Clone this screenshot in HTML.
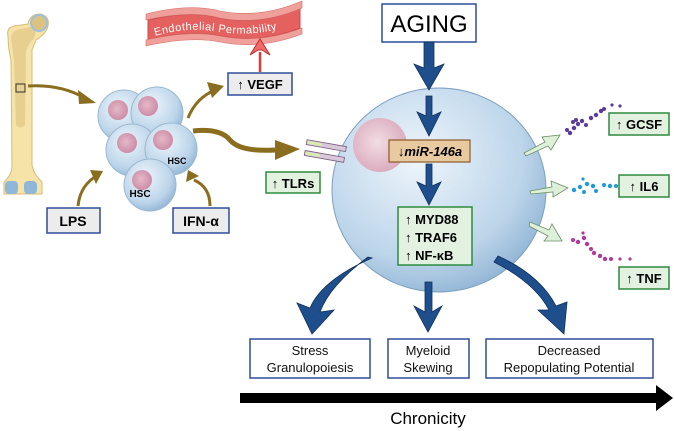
<!DOCTYPE html>
<html><head><meta charset="utf-8"><style>
html,body{margin:0;padding:0;background:#fff;}
svg{display:block;font-family:"Liberation Sans",sans-serif;}
.b{font-family:"Liberation Sans",sans-serif;font-weight:bold;}
</style></head><body>
<svg width="674" height="431" viewBox="0 0 674 431" xmlns="http://www.w3.org/2000/svg">
<defs>
<radialGradient id="cell" cx="0.4" cy="0.35" r="0.7">
<stop offset="0" stop-color="#eef5fb"/><stop offset="0.7" stop-color="#bcd5ea"/><stop offset="1" stop-color="#8fb3d4"/>
</radialGradient>
<radialGradient id="nuc" cx="0.45" cy="0.45" r="0.6">
<stop offset="0" stop-color="#f3dce4"/><stop offset="1" stop-color="#d9a9bb"/>
</radialGradient>
<radialGradient id="sn" cx="0.45" cy="0.45" r="0.6">
<stop offset="0" stop-color="#e6b8c9"/><stop offset="1" stop-color="#c98aa3"/>
</radialGradient>
</defs>

<!-- bone -->
<path d="M8,36 Q6,28 14,26 L28,24 Q30,14 40,14 Q50,16 48,26 Q46,34 36,40 L32,50 L32,165 Q34,175 42,182 L42,194 L4,194 L4,182 Q12,175 12,165 L11,60 Q8,48 8,36 Z" fill="#f5e3a8" stroke="#d6bd7a" stroke-width="1"/>
<path d="M11,38 Q12,30 20,29 L30,27 Q38,30 34,38 Q28,44 26,52 L25,125 Q20,130 16,125 L14,60 Z" fill="#d9c07a" opacity="0.55"/>
<circle cx="39" cy="23" r="8" fill="#dcc280" stroke="#9ec0dc" stroke-width="2"/>
<rect x="5" y="181" width="13" height="13" rx="4" fill="#8fb7d8"/>
<rect x="24" y="181" width="13" height="13" rx="4" fill="#8fb7d8"/>
<rect x="16" y="84" width="9" height="8" fill="none" stroke="#333" stroke-width="1"/>
<!-- bone to hsc arrow -->
<path d="M28,86 Q60,84 85,98" stroke="#8a6d1e" stroke-width="3" fill="none"/>
<polygon points="78,90 96,103 79,104" fill="#8a6d1e"/>

<!-- endothelial -->
<path d="M148,20 Q190,10 220,18 Q260,26 300,8 L300,28 Q260,44 220,36 Q190,30 148,40 Z" fill="#e4615f" stroke="#c94a4a"/>
<path d="M146,14 Q190,3 220,11 Q260,19 302,1 L302,8 Q260,26 220,18 Q190,10 146,20 Z" fill="#f0a09b" stroke="#d46a66" stroke-width="0.6"/>
<path d="M146,40 Q190,30 220,36 Q260,44 302,28 L302,34 Q260,50 220,42 Q190,36 146,46 Z" fill="#f0a09b" stroke="#d46a66" stroke-width="0.6"/>
<path id="tp" d="M155,36 Q190,26 220,32 Q260,38 300,22" fill="none"/>
<text font-size="11" fill="#fff" letter-spacing="0.5"><textPath href="#tp">Endothelial Permability</textPath></text>
<!-- red arrow -->
<line x1="260" y1="72" x2="260" y2="52" stroke="#e03c3a" stroke-width="2.5"/>
<polygon points="250,55 260,39 270,55 262,50 258,50" fill="#f26b6a" stroke="#c42b2b"/>

<!-- VEGF -->
<rect x="228" y="73" width="64" height="22" fill="#ececec" stroke="#2f4d9a" stroke-width="1.5"/>
<text x="260" y="89" text-anchor="middle" class="b" font-size="13">↑ VEGF</text>

<!-- hsc cluster -->
<g stroke="#9cb8cf" stroke-width="1">
<circle cx="124" cy="116" r="26" fill="url(#cell)"/>
<circle cx="157" cy="113" r="26" fill="url(#cell)"/>
<circle cx="132" cy="150" r="26" fill="url(#cell)"/>
<circle cx="171" cy="149" r="26" fill="url(#cell)"/>
<circle cx="150" cy="185" r="26" fill="url(#cell)"/>
</g>
<g fill="url(#sn)">
<circle cx="118" cy="110" r="10"/><circle cx="148" cy="106" r="10"/>
<circle cx="127" cy="143" r="10"/><circle cx="163" cy="140" r="10"/><circle cx="142" cy="180" r="10"/>
</g>
<text x="177" y="164" text-anchor="middle" class="b" font-size="9">HSC</text>
<text x="140" y="197" text-anchor="middle" class="b" font-size="10">HSC</text>

<!-- arrows from hsc -->
<path d="M188,118 Q196,98 215,90" stroke="#8a6d1e" stroke-width="3" fill="none"/>
<polygon points="207,82 224,86 212,98" fill="#8a6d1e"/>
<path d="M193,131 Q220,128 230,140 Q240,152 275,150" stroke="#8a6d1e" stroke-width="5" fill="none"/>
<polygon points="275,140 300,149 275,160" fill="#8a6d1e"/>
<path d="M78,206 Q80,185 98,175" stroke="#8a6d1e" stroke-width="3" fill="none"/>
<polygon points="90,170 103,171 96,184" fill="#8a6d1e"/>
<path d="M210,206 Q210,187 194,180" stroke="#8a6d1e" stroke-width="3" fill="none"/>
<polygon points="186,182 188,170 199,176" fill="#8a6d1e"/>

<rect x="47" y="208" width="53" height="25" fill="#ececec" stroke="#2f4d9a" stroke-width="1.5"/>
<text x="73" y="226" text-anchor="middle" class="b" font-size="14">LPS</text>
<rect x="173" y="208" width="56" height="25" fill="#ececec" stroke="#2f4d9a" stroke-width="1.5"/>
<text x="201" y="226" text-anchor="middle" class="b" font-size="14">IFN-α</text>

<!-- big cell -->
<ellipse cx="439" cy="190" rx="107" ry="102" fill="url(#cell)" stroke="#7d9fbe" stroke-width="1"/>
<ellipse cx="380" cy="145" rx="27" ry="27" fill="url(#nuc)"/>
<!-- receptor -->
<g transform="rotate(10 325 153)">
<rect x="305" y="143" width="40" height="5" fill="#d9c8dc" stroke="#7a5a7a" stroke-width="0.8"/>
<rect x="305" y="154" width="40" height="5" fill="#d9c8dc" stroke="#7a5a7a" stroke-width="0.8"/>
<rect x="306" y="144" width="14" height="3" fill="#d8ecb0"/>
<rect x="306" y="155" width="14" height="3" fill="#d8ecb0"/>
</g>
<rect x="266" y="172" width="54" height="21" fill="#e3f1e1" stroke="#2e8b3e" stroke-width="1.5"/>
<text x="293" y="188" text-anchor="middle" class="b" font-size="13">↑ TLRs</text>

<!-- AGING -->
<rect x="382" y="4" width="94" height="38" fill="#fff" stroke="#2f4d9a" stroke-width="1.5"/>
<text x="429" y="32" text-anchor="middle" font-size="24">AGING</text>
<g fill="#1f4e8c" stroke="#10305e" stroke-width="0.8">
<polygon points="424,42 434,42 434,68 444,64 429,90 414,64 424,68"/>
<polygon points="426,96 432,96 432,116 441,112 429,136 417,112 426,116"/>
<polygon points="426,164 432,164 432,186 441,182 429,205 417,182 426,186"/>
<polygon points="425,282 432,282 432,312 442,306 428,332 414,306 425,312"/>
<path d="M368,257 Q330,285 320,312 L334,310 L312,334 L297,303 L310,308 Q322,280 372,258 Z"/>
<path d="M498,256 Q540,275 556,306 L567,302 L564,334 L538,310 L549,310 Q535,283 494,262 Z"/>
</g>
<rect x="389" y="140" width="81" height="22" fill="#e8c9a0" stroke="#8a5a2a" stroke-width="1.2"/>
<text x="430" y="156" text-anchor="middle" class="b" font-size="13" font-style="italic">↓miR-146a</text>
<rect x="398" y="207" width="74" height="58" fill="#e3f1e1" stroke="#2e8b3e" stroke-width="1.5"/>
<text x="405" y="224" class="b" font-size="13">↑ MYD88</text>
<text x="405" y="242" class="b" font-size="13">↑ TRAF6</text>
<text x="405" y="260" class="b" font-size="13">↑ NF-κB</text>

<!-- outgoing light arrows -->
<g fill="#dff0da" stroke="#6b8f64" stroke-width="0.8">
<polygon points="524,153 545,142 542,137 560,135 551,150 548,146 526,156"/>
<polygon points="530,191 552,187 551,181 568,188 553,197 553,192 531,194"/>
<polygon points="530,222 549,230 552,224 562,241 544,241 548,236 529,226"/>
</g>
<!-- dots -->
<g fill="#5a3a9a">
<circle cx="570" cy="133" r="2.2"/><circle cx="574" cy="128" r="2.2"/><circle cx="578" cy="124" r="2.2"/><circle cx="576" cy="120" r="2"/><circle cx="582" cy="121" r="2.2"/><circle cx="586" cy="125" r="2"/><circle cx="591" cy="118" r="2.2"/><circle cx="596" cy="115" r="2.2"/><circle cx="601" cy="111" r="2.2"/><circle cx="604" cy="109" r="2"/><circle cx="573" cy="122" r="2"/><circle cx="612" cy="105" r="1.6"/><circle cx="620" cy="106" r="1.6"/><circle cx="567" cy="130" r="2"/>
</g>
<g fill="#1e9ad6">
<circle cx="574" cy="190" r="2.2"/><circle cx="580" cy="187" r="2.2"/><circle cx="584" cy="192" r="2"/><circle cx="587" cy="184" r="2.2"/><circle cx="593" cy="186" r="2.2"/><circle cx="596" cy="191" r="2"/><circle cx="604" cy="185" r="2"/><circle cx="610" cy="186" r="2.2"/><circle cx="616" cy="186" r="2"/><circle cx="622" cy="189" r="1.8"/><circle cx="631" cy="190" r="1.6"/><circle cx="583" cy="179" r="1.6"/>
</g>
<g fill="#b03a9a">
<circle cx="573" cy="240" r="2"/><circle cx="578" cy="242" r="2.2"/><circle cx="584" cy="238" r="2.2"/><circle cx="587" cy="244" r="2.2"/><circle cx="591" cy="249" r="2"/><circle cx="594" cy="253" r="2.2"/><circle cx="600" cy="256" r="2.2"/><circle cx="605" cy="259" r="2.2"/><circle cx="611" cy="259" r="2"/><circle cx="620" cy="259" r="1.6"/><circle cx="630" cy="259" r="1.6"/><circle cx="583" cy="233" r="1.6"/>
</g>
<rect x="609" y="113" width="60" height="22" fill="#e3f1e1" stroke="#2e8b3e" stroke-width="1.5"/>
<text x="639" y="129" text-anchor="middle" class="b" font-size="13">↑ GCSF</text>
<rect x="619" y="175" width="50" height="22" fill="#e3f1e1" stroke="#2e8b3e" stroke-width="1.5"/>
<text x="644" y="191" text-anchor="middle" class="b" font-size="13">↑ IL6</text>
<rect x="619" y="267" width="50" height="22" fill="#e3f1e1" stroke="#2e8b3e" stroke-width="1.5"/>
<text x="644" y="283" text-anchor="middle" class="b" font-size="13">↑ TNF</text>

<!-- bottom boxes -->
<g fill="#fff" stroke="#2f4d9a" stroke-width="1.5">
<rect x="250" y="339" width="120" height="39"/>
<rect x="388" y="339" width="81" height="39"/>
<rect x="486" y="339" width="167" height="39"/>
</g>
<g font-size="13" text-anchor="middle" fill="#111">
<text x="310" y="355">Stress</text><text x="310" y="372">Granulopoiesis</text>
<text x="428" y="355">Myeloid</text><text x="428" y="372">Skewing</text>
<text x="569" y="355">Decreased</text><text x="569" y="372">Repopulating Potential</text>
</g>
<!-- chronicity -->
<rect x="240" y="393" width="418" height="10" fill="#000"/>
<polygon points="656,385 673,398 656,411" fill="#000"/>
<text x="428" y="424" text-anchor="middle" font-size="17">Chronicity</text>
</svg>
</body></html>
